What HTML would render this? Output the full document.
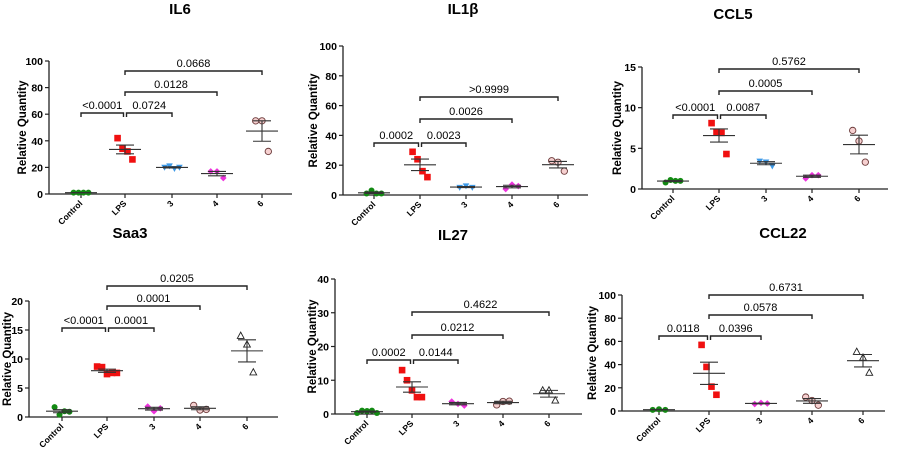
<!DOCTYPE html>
<html><head><meta charset="utf-8"><style>
html,body{margin:0;padding:0;background:#fff;}
svg{display:block;font-family:"Liberation Sans",Arial,sans-serif;}
</style></head><body>
<svg id="fig" width="899" height="450" viewBox="0 0 899 450"></svg>
<script>
const categories = ["Control","LPS","3","4","6"];
const titles = ["IL6","IL1β","CCL5","Saa3","IL27","CCL22"];
const yMaxes = [100,100,15,20,40,100];
const yTicks = [[0,20,40,60,80,100],[0,20,40,60,80,100],[0,5,10,15],[0,5,10,15,20],[0,10,20,30,40],[0,20,40,60,80,100]];
const ctrlVals = [[1,1,1,1],[1,3,1,1],[0.8,1.1,1,1],[1.7,0.4,1,0.9],[0.3,1,0.9,1,0.3],[1,1.5,1]];
const lpsVals = [[42,34,32,26],[29,24,16,12],[8.1,7,6.9,4.3],[8.7,8.6,7.4,7.6,7.6],[13,10,7,5,5],[57,38,21,14]];
const g3Vals = [[20,21,19,20],[5,6,5],[3.4,3.3,2.8],[1.8,1,1.5],[3.7,3,2.5],[6,7,6.5]];
const g4Vals = [[17,17,12],[4,7,6],[1.3,1.7,1.7],[2,1.2,1.3],[2.7,3.7,3.8],[12,9,5]];
const g6Vals = [[55,55,32],[23,22,16],[7.2,5.9,3.3],[14,12.5,7.7],[7,7,4],[51,46,33]];
const pCtrlLps = ["<0.0001","0.0002","<0.0001","<0.0001","0.0002","0.0118"];
const pLps3 = ["0.0724","0.0023","0.0087","0.0001","0.0144","0.0396"];
const pLps4 = ["0.0128","0.0026","0.0005","0.0001","0.0212","0.0578"];
const pLps6 = ["0.0668",">0.9999","0.5762","0.0205","0.4622","0.6731"];

const L = [
 {ax:49,y0:194,yT:61,xe:292,cx:[81,125,172,217,262],br:[113,92,71],t:[180,14],yl:22},
 {ax:343,y0:195,yT:46,xe:588,cx:[374,420,466,512,558],br:[143,119,97],t:[463,14],yl:313},
 {ax:642,y0:189,yT:67,xe:888,cx:[673,719,766,812,859],br:[115,91,69],t:[733,19],yl:617},
 {ax:29,y0:417,yT:301,xe:278,cx:[62,107,154,200,247],br:[328,306,286],t:[130,238],yl:7},
 {ax:335,y0:414,yT:279,xe:582,cx:[367,412,458,503,549],br:[360,335,312],t:[453,240],yl:312},
 {ax:622,y0:411,yT:295,xe:885,cx:[659,709,761,812,863],br:[336,315,295],t:[783,238],yl:592}
];
const NS="http://www.w3.org/2000/svg";
const svg=document.getElementById('fig');
function mk(tag,attrs,parent){const e=document.createElementNS(NS,tag);for(const k in attrs)e.setAttribute(k,attrs[k]);(parent||svg).appendChild(e);return e;}
function marker(g,type,x,y){
  let e;
  if(type==='circle') e=mk('circle',{cx:x,cy:y,r:3,fill:'#138a13'},g);
  else if(type==='square') e=mk('rect',{x:x-3.3,y:y-3.3,width:6.6,height:6.6,fill:'#f01010'},g);
  else if(type==='tridown') e=mk('polygon',{points:`${x-3.3},${y-2.7} ${x+3.3},${y-2.7} ${x},${y+3.3}`,fill:'#3d9ae8'},g);
  else if(type==='diamond') e=mk('polygon',{points:`${x},${y-3.3} ${x+3.3},${y} ${x},${y+3.3} ${x-3.3},${y}`,fill:'#ee33dd'},g);
  else if(type==='ocircle') e=mk('circle',{cx:x,cy:y,r:3.2,fill:'#f6d0d0',stroke:'#6b3a3a','stroke-width':0.9},g);
  else e=mk('polygon',{points:`${x},${y-3.7} ${x+3.4},${y+2.6} ${x-3.4},${y+2.6}`,fill:'#fff',stroke:'#222','stroke-width':0.9},g);
  
  
}
for(let p=0;p<6;p++){
  const l=L[p];
  const g=mk('g',{});
  
  
  const ys=v=>l.y0-(v/yMaxes[p])*(l.y0-l.yT);
  const t=mk('text',{x:l.t[0],y:l.t[1],'text-anchor':'middle','font-size':15,'font-weight':'bold'},g);t.textContent=titles[p];
  
  const yl=mk('text',{x:l.yl,y:(l.y0+l.yT)/2,'text-anchor':'middle','font-size':11.5,'font-weight':'bold',transform:`rotate(-90 ${l.yl} ${(l.y0+l.yT)/2})`,dy:4},g);yl.textContent='Relative Quantity';
  
  mk('line',{x1:l.ax,y1:l.yT,x2:l.ax,y2:l.y0,stroke:'#222','stroke-width':1.3},g);
  mk('line',{x1:l.ax,y1:l.y0,x2:l.xe,y2:l.y0,stroke:'#222','stroke-width':1.3},g);
  yTicks[p].forEach(v=>{
    mk('line',{x1:l.ax-4,y1:ys(v),x2:l.ax,y2:ys(v),stroke:'#222','stroke-width':1.2},g);
    const tt=mk('text',{x:l.ax-6,y:ys(v)+4,'text-anchor':'end','font-size':10.5,'font-weight':'bold'},g);tt.textContent=v;
    
  });
  categories.forEach((c,i)=>{
    const x=l.cx[i];
    mk('line',{x1:x,y1:l.y0,x2:x,y2:l.y0+4,stroke:'#222','stroke-width':1.2},g);
    const tt=mk('text',{x:x+2,y:l.y0+10,'text-anchor':'end','font-size':8.5,'font-weight':'bold',transform:`rotate(-45 ${x+2} ${l.y0+10})`},g);tt.textContent=c;
    
  });
  const lower=p>=3;
  const groups=[[ctrlVals[p],'circle'],[lpsVals[p],'square'],[g3Vals[p],lower?'diamond':'tridown'],[g4Vals[p],lower?'ocircle':'diamond'],[g6Vals[p],lower?'tri':'ocircle']];
  groups.forEach((gr,i)=>{
    const vals=gr[0],n=vals.length,x=l.cx[i];
    const mean=vals.reduce((a,b)=>a+b,0)/n;
    const sd=Math.sqrt(vals.reduce((a,b)=>a+(b-mean)**2,0)/(n-1));
    const se=sd/Math.sqrt(n);
    const sp=4.5;
    vals.forEach((v,j)=>marker(g,gr[1],x+(j-(n-1)/2)*sp*(n>3?1.1:1.4),ys(v)));
    mk('line',{x1:x-16,y1:ys(mean),x2:x+16,y2:ys(mean),stroke:'#333','stroke-width':1.1},g);
    mk('line',{x1:x-9,y1:ys(mean+se),x2:x+9,y2:ys(mean+se),stroke:'#333','stroke-width':1.1},g);
    mk('line',{x1:x-9,y1:ys(mean-se),x2:x+9,y2:ys(mean-se),stroke:'#333','stroke-width':1.1},g);
    mk('line',{x1:x,y1:ys(mean+se),x2:x,y2:ys(mean-se),stroke:'#333','stroke-width':1.1},g);
  });
  const brs=[[0,1,l.br[0],pCtrlLps[p]],[1,2,l.br[0],pLps3[p]],[1,3,l.br[1],pLps4[p]],[1,4,l.br[2],pLps6[p]]];
  brs.forEach((b,k)=>{
    const x1=l.cx[b[0]]+(k===1?1.5:0), x2=l.cx[b[1]]-(k===0?1.5:0), y=b[2];
    const pth=mk('path',{d:`M${x1},${y+4}V${y}H${x2}V${y+4}`,fill:'none',stroke:'#222','stroke-width':1.4},g);
    
    const tt=mk('text',{x:(x1+x2)/2,y:y-4,'text-anchor':'middle','font-size':11},g);tt.textContent=b[3];
    
  });
}
</script>
</body></html>
